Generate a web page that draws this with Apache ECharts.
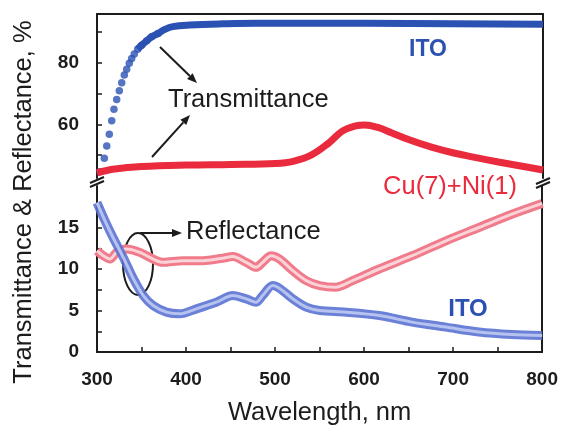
<!DOCTYPE html>
<html>
<head>
<meta charset="utf-8">
<script src="https://cdn.jsdelivr.net/npm/echarts@6/dist/echarts.min.js"></script>
<style>
  html, body { margin: 0; padding: 0; background: #fff; }
  #chart { width: 561px; height: 432px; }
</style>
</head>
<body>
<div id="chart"></div>
<script>
// Wavelength axis (nm)
const wavelengthLabels = [300, 400, 500, 600, 700, 800];
const wavelengthTicks = [300, 350, 400, 450, 500, 550, 600, 650, 700, 750, 800];

// Transmittance panel (upper) and reflectance panel (lower) ticks
const transLabels = [60, 80];
const transTicks = [50, 60, 70, 80, 90];
const reflLabels = [0, 5, 10, 15];
const reflTicks = [0, 2.5, 5, 7.5, 10, 12.5, 15, 17.5];

// ITO transmittance, individual measured points on the rising edge [nm, %]
const itoTransDots = [
  [303.4, 44.6], [308.2, 49.0], [310.9, 53.0], [313.8, 56.8], [316.5, 61.2],
  [319.0, 64.9], [322.1, 68.1], [325.0, 70.9], [327.7, 73.5], [330.6, 76.0],
  [333.3, 77.9], [336.2, 79.8], [338.9, 81.4], [341.8, 82.8], [345.6, 84.4],
  [350.1, 85.7], [355.7, 87.1], [361.3, 88.4], [368.6, 89.5]
];
// ITO transmittance, densely sampled plateau [nm, %]
const itoTransPlateau = [
  [345.6, 84.4], [350.1, 85.7], [355.7, 87.1], [361.3, 88.4], [368.6, 89.5],
  [376, 90.8], [385, 91.7], [404, 92.2], [441, 92.6], [479, 92.8],
  [550, 92.8], [650, 92.7], [800, 92.5]
];
// Cu(7)+Ni(1) transmittance [nm, %]
const cuNiTrans = [
  [300, 44.3], [320, 45.5], [350, 46.3], [400, 46.8], [450, 47.0], [500, 47.3],
  [520, 48.0], [540, 50.0], [560, 54.0], [575, 57.8], [590, 59.5], [600, 59.8],
  [615, 59.0], [630, 57.3], [650, 55.0], [675, 52.6], [700, 50.7], [725, 49.2],
  [750, 47.8], [775, 46.5], [800, 45.2]
];
// ITO reflectance [nm, %]
const itoRefl = [
  [300, 18.0], [309, 15.8], [318, 13.8], [329.5, 11.4], [341, 8.8], [352, 6.8],
  [363, 5.6], [378, 4.8], [393, 4.6], [411.6, 5.2], [434, 6.0], [452.6, 6.8],
  [467.6, 6.4], [478.8, 6.0], [486, 6.8], [497.4, 8.0], [506, 7.6], [520, 6.4],
  [535, 5.4], [550, 5.0], [580, 4.8], [617, 4.4], [654, 3.6], [691.6, 3.0],
  [729, 2.4], [766, 2.1], [800, 2.0]
];
// Cu(7)+Ni(1) reflectance [nm, %]
const cuNiRefl = [
  [300, 12.2], [307, 11.6], [314.6, 11.2], [322, 12.0], [333, 12.4], [348, 12.0],
  [363, 11.2], [374, 10.8], [396.6, 11.0], [419, 11.0], [441, 11.3], [452.6, 11.5],
  [467.6, 10.8], [478.8, 10.2], [486, 10.8], [495.6, 11.6], [505, 11.2], [520, 9.8],
  [535, 8.6], [550, 8.0], [568, 7.8], [587, 8.6], [617, 10.0], [654, 11.6],
  [692, 13.4], [729, 15.0], [766, 16.6], [800, 17.9]
];

const FONT = '"Liberation Sans", Arial, sans-serif';
const INK = '#1c1c1c';
const BLUE = '#2b51b3';
const RED = '#ea2a3d';

const axisLine = { show: true, onZero: false, lineStyle: { color: INK, width: 2 } };
const tickLabel = { color: INK, fontFamily: FONT, fontWeight: 'bold', fontSize: 19 };

function arrow(x1, y1, x2, y2) {
  const a = Math.atan2(y2 - y1, x2 - x1);
  const L = 10, W = 4;
  const bx = x2 - L * Math.cos(a), by = y2 - L * Math.sin(a);
  const px = -Math.sin(a) * W, py = Math.cos(a) * W;
  return [
    { type: 'line', shape: { x1: x1, y1: y1, x2: bx, y2: by }, style: { stroke: INK, lineWidth: 2 } },
    { type: 'polygon', shape: { points: [[x2, y2], [bx + px, by + py], [bx - px, by - py]] }, style: { fill: INK } }
  ];
}
function breakMark(cx, cy) {
  return [
    { type: 'rect', shape: { x: cx - 8, y: cy - 4, width: 16, height: 8 }, style: { fill: '#fff' } },
    { type: 'line', shape: { x1: cx - 7, y1: cy + 1, x2: cx + 7, y2: cy - 5 }, style: { stroke: INK, lineWidth: 2 } },
    { type: 'line', shape: { x1: cx - 7, y1: cy + 5, x2: cx + 7, y2: cy - 1 }, style: { stroke: INK, lineWidth: 2 } }
  ];
}
function label(text, x, y, opts) {
  return {
    type: 'text', x: x, y: y, rotation: opts.rotation || 0,
    style: {
      text: text, fill: opts.color || INK, textAlign: opts.align || 'center',
      textVerticalAlign: 'middle',
      font: (opts.weight || 'normal') + ' ' + opts.size + 'px ' + FONT
    }
  };
}

const chart = echarts.init(document.getElementById('chart'), null, { renderer: 'canvas' });

chart.setOption({
  animation: false,
  backgroundColor: '#fff',
  grid: [
    { left: 97, right: 18, top: 14, height: 164 },
    { left: 97, right: 18, top: 186, bottom: 80 }
  ],
  xAxis: [
    {
      gridIndex: 0, type: 'value', min: 300, max: 800, position: 'top',
      axisLine: axisLine, axisTick: { show: false }, axisLabel: { show: false },
      splitLine: { show: false }
    },
    {
      gridIndex: 1, type: 'value', min: 300, max: 800, position: 'bottom',
      axisLine: axisLine,
      axisTick: { show: true, inside: true, length: 5, customValues: wavelengthTicks, lineStyle: { color: INK, width: 1.5 } },
      axisLabel: Object.assign({ margin: 18, customValues: wavelengthLabels }, tickLabel),
      splitLine: { show: false },
      name: 'Wavelength, nm', nameLocation: 'middle', nameGap: 48,
      nameTextStyle: { color: INK, fontFamily: FONT, fontSize: 25.5 }
    }
  ],
  yAxis: [
    {
      gridIndex: 0, type: 'value', min: 42.6, max: 95.8, position: 'left',
      axisLine: axisLine,
      axisTick: { show: true, inside: true, length: 5, customValues: transTicks, lineStyle: { color: INK, width: 1.5 } },
      axisLabel: Object.assign({ margin: 18, customValues: transLabels }, tickLabel),
      splitLine: { show: false }
    },
    {
      gridIndex: 0, type: 'value', min: 42.6, max: 95.8, position: 'right',
      axisLine: axisLine, axisTick: { show: false }, axisLabel: { show: false },
      splitLine: { show: false }
    },
    {
      gridIndex: 1, type: 'value', min: 0, max: 20, position: 'left',
      axisLine: axisLine,
      axisTick: { show: true, inside: true, length: 5, customValues: reflTicks, lineStyle: { color: INK, width: 1.5 } },
      axisLabel: Object.assign({ margin: 18, customValues: reflLabels }, tickLabel),
      splitLine: { show: false }
    },
    {
      gridIndex: 1, type: 'value', min: 0, max: 20, position: 'right',
      axisLine: axisLine, axisTick: { show: false }, axisLabel: { show: false },
      splitLine: { show: false }
    }
  ],
  series: [
    {
      name: 'ITO transmittance band', type: 'line', xAxisIndex: 0, yAxisIndex: 0,
      data: itoTransPlateau, smooth: 0.4, showSymbol: false,
      lineStyle: { color: BLUE, width: 7 }
    },
    {
      name: 'ITO transmittance', type: 'scatter', xAxisIndex: 0, yAxisIndex: 0,
      data: itoTransDots, symbol: 'circle', symbolSize: 7.5,
      itemStyle: { color: BLUE }
    },
    {
      name: 'Cu(7)+Ni(1) transmittance', type: 'line', xAxisIndex: 0, yAxisIndex: 0,
      data: cuNiTrans, smooth: 0.4, showSymbol: false,
      lineStyle: { color: RED, width: 7 }
    },
    {
      name: 'Cu(7)+Ni(1) reflectance', type: 'line', xAxisIndex: 1, yAxisIndex: 2,
      data: cuNiRefl, smooth: 0.3, showSymbol: false,
      lineStyle: { color: '#f07c8b', width: 9 }
    },
    {
      name: 'Cu(7)+Ni(1) reflectance core', type: 'line', xAxisIndex: 1, yAxisIndex: 2,
      data: cuNiRefl, smooth: 0.3, showSymbol: false,
      lineStyle: { color: '#fbd2d8', width: 3 }
    },
    {
      name: 'ITO reflectance', type: 'line', xAxisIndex: 1, yAxisIndex: 2,
      data: itoRefl, smooth: 0.3, showSymbol: false,
      lineStyle: { color: '#5b73d3', width: 9, opacity: 0.9 }
    },
    {
      name: 'ITO reflectance core', type: 'line', xAxisIndex: 1, yAxisIndex: 2,
      data: itoRefl, smooth: 0.3, showSymbol: false,
      lineStyle: { color: '#b6c2ef', width: 3 }
    }
  ],
  graphic: [].concat(
    breakMark(97, 182),
    breakMark(543, 183),
    [
      label('Transmittance & Reflectance, %', 24, 202, { size: 25.5, rotation: Math.PI / 2 }),
      label('ITO', 428, 50, { size: 23, weight: 'bold', color: BLUE }),
      label('Transmittance', 168, 100, { size: 25.5, align: 'left' }),
      label('Cu(7)+Ni(1)', 450, 187, { size: 25.5, color: RED }),
      label('Reflectance', 186, 232, { size: 25.5, align: 'left' }),
      label('ITO', 468, 309, { size: 24, weight: 'bold', color: BLUE }),
      {
        type: 'ellipse', shape: { cx: 138, cy: 264, rx: 15, ry: 31 },
        style: { fill: 'none', stroke: INK, lineWidth: 2 }
      }
    ],
    arrow(160, 47, 197, 83),
    arrow(152, 157, 190, 115),
    arrow(140, 233, 182, 233)
  )
});
</script>
</body>
</html>
